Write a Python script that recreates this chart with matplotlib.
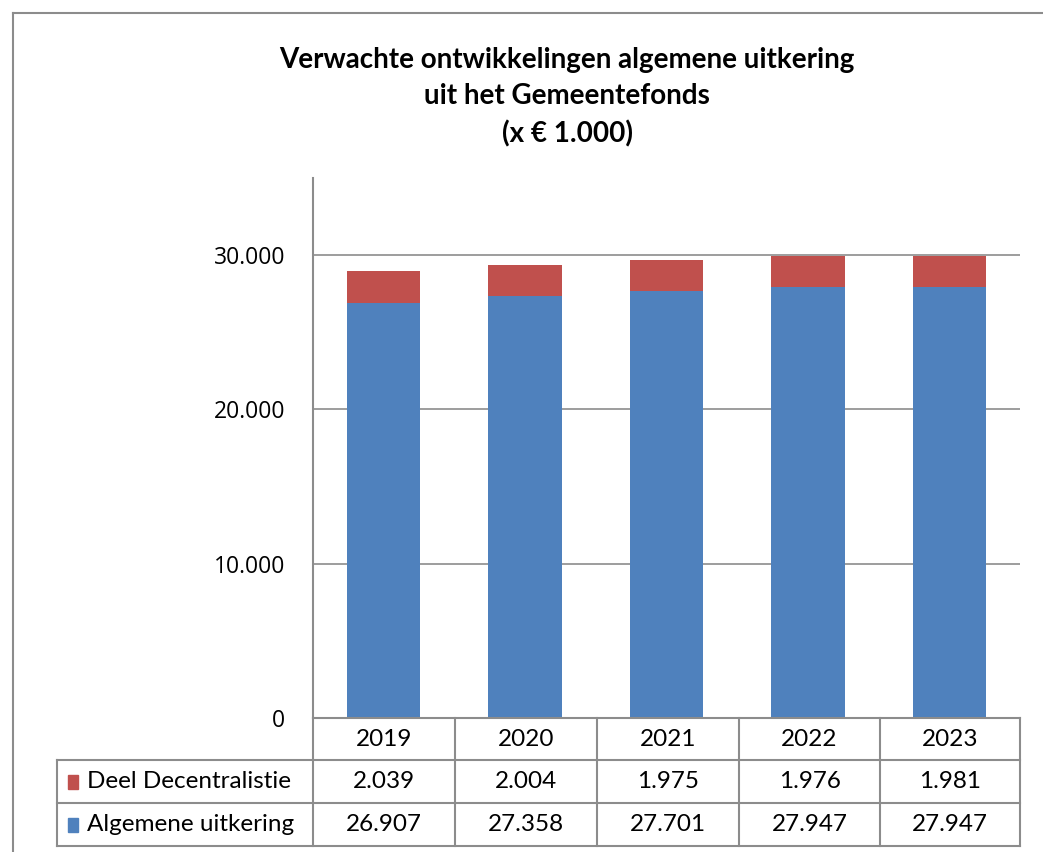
import matplotlib.pyplot as plt
from matplotlib.lines import Line2D
from matplotlib.patches import Rectangle

# data
years = ['2019', '2020', '2021', '2022', '2023']
decentralistie = [2039, 2004, 1975, 1976, 1981]
algemeen = [26907, 27358, 27701, 27947, 27947]
series_names = ['Deel Decentralistie', 'Algemene uitkering']
yticks = [0, 10000, 20000, 30000]

blue = '#4F81BD'
red = '#C0504D'
line_col = '#8C8C8C'

W, H = 1043, 852
fig = plt.figure(figsize=(W / 100, H / 100), dpi=100)


def fx(px):
    return px / W


def fy(py):
    return 1 - py / H


def nl(s):
    # thousands with dots, Dutch style
    return f'{s:,.0f}'.replace(',', '.')


# outer frame (top and left edge visible)
fig.add_artist(Line2D([fx(13), 1], [fy(13), fy(13)], color=line_col, lw=1.5))
fig.add_artist(Line2D([fx(13), fx(13)], [fy(13), 0], color=line_col, lw=1.5))

left, right, top, bottom = 313, 1020, 178, 718
ax = fig.add_axes([fx(left), fy(bottom), fx(right - left), fy(top) - fy(bottom)])

x = range(len(years))
ax.bar(x, algemeen, width=0.52, color=blue, zorder=3)
ax.bar(x, decentralistie, width=0.52, bottom=algemeen, color=red, zorder=3)

ax.set_xlim(-0.5, len(years) - 0.5)
ax.set_ylim(0, 35000)
ax.set_yticks(yticks, labels=[nl(v) for v in yticks], fontfamily='Open Sans', fontsize=16.5)
ax.tick_params(axis='y', length=0, pad=20, labelcolor='black')
ax.set_xticks([])
ax.grid(axis='y', color=line_col, lw=1.2, zorder=0)
for s in ['top', 'right', 'bottom']:
    ax.spines[s].set_visible(False)
ax.spines['left'].set_color(line_col)
ax.spines['left'].set_linewidth(1.5)

# title
fig.text(fx(567), fy(97), 'Verwachte ontwikkelingen algemene uitkering\nuit het Gemeentefonds\n(x \u20ac 1.000)',
         ha='center', va='center', fontsize=20, fontweight='bold', family='Lato', linespacing=1.5)

# data table
col_edges = [313, 455, 597, 739, 880, 1020]
row_edges = [718, 760, 803, 846]
label_left = 57
tfont = dict(fontsize=17.5, family='Lato', color='black')

# horizontal lines
fig.add_artist(Line2D([fx(313), fx(1020)], [fy(718), fy(718)], color=line_col, lw=1.5))
for ry in row_edges[1:]:
    fig.add_artist(Line2D([fx(label_left), fx(1020)], [fy(ry), fy(ry)], color=line_col, lw=1.5))
# vertical lines
for cx in col_edges:
    fig.add_artist(Line2D([fx(cx), fx(cx)], [fy(718), fy(846)], color=line_col, lw=1.5))
fig.add_artist(Line2D([fx(label_left), fx(label_left)], [fy(760), fy(846)], color=line_col, lw=1.5))

for i, yr in enumerate(years):
    cx = (col_edges[i] + col_edges[i + 1]) / 2
    fig.text(fx(cx), fy((row_edges[0] + row_edges[1]) / 2), yr, ha='center', va='center', **tfont)
    fig.text(fx(cx), fy((row_edges[1] + row_edges[2]) / 2), nl(decentralistie[i]), ha='center', va='center', **tfont)
    fig.text(fx(cx), fy((row_edges[2] + row_edges[3]) / 2), nl(algemeen[i]), ha='center', va='center', **tfont)

for r, (name, col) in enumerate(zip(series_names, [red, blue])):
    yc = (row_edges[r + 1] + row_edges[r + 2]) / 2
    fig.add_artist(Rectangle((fx(68), fy(yc + 7)), fx(10), fy(yc - 7) - fy(yc + 7), color=col))
    fig.text(fx(87), fy(yc), name, ha='left', va='center', **tfont)

fig.savefig('out.png', dpi=100)
